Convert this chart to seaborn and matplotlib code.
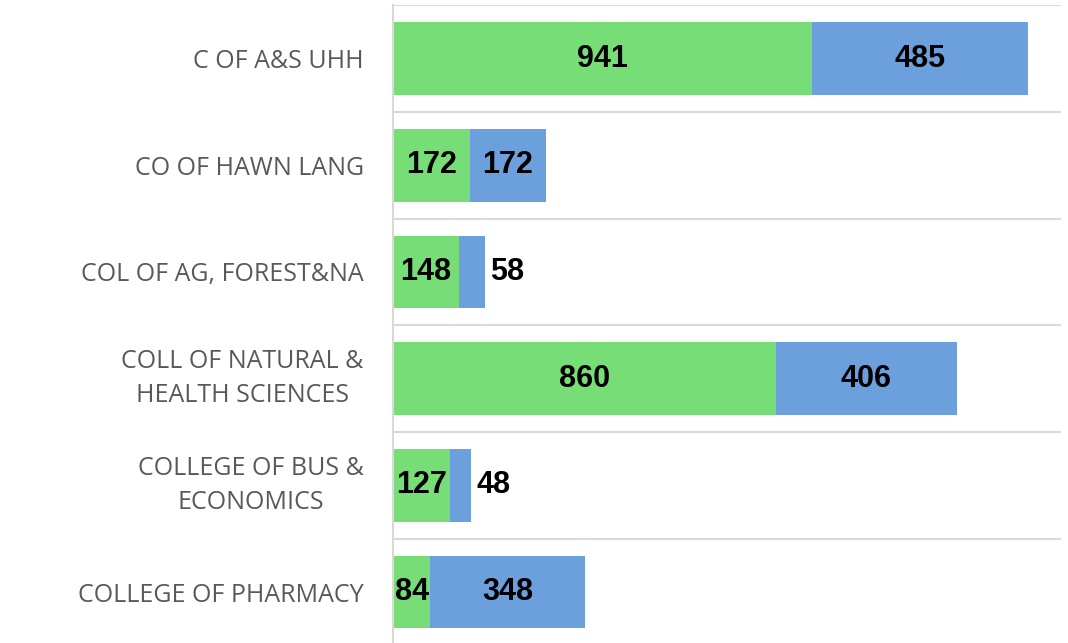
import matplotlib
matplotlib.use("Agg")
import matplotlib.pyplot as plt
import seaborn as sns

# Data
colleges = ["C OF A&S UHH", "CO OF HAWN LANG", "COL OF AG, FOREST&NA",
            "COLL OF NATURAL &\nHEALTH SCIENCES", "COLLEGE OF BUS &\nECONOMICS",
            "COLLEGE OF PHARMACY"]
green_vals = [941, 172, 148, 860, 127, 84]
blue_vals = [485, 172, 58, 406, 48, 348]

green = "#77DD77"
blue = "#6CA0DC"
totals = [g + b for g, b in zip(green_vals, blue_vals)]

sns.set_style("white")
plt.rcParams['font.family'] = ['Open Sans', 'DejaVu Sans']

fig = plt.figure(figsize=(10.68, 6.43), dpi=100)
ax = fig.add_axes([393 / 1068, -0.004, 668 / 1068, 0.996])

# blue segment = full bar drawn first, green drawn over it
sns.barplot(x=totals, y=colleges, color=blue, width=0.68, saturation=1,
            linewidth=0, ax=ax, orient="h")
sns.barplot(x=green_vals, y=colleges, color=green, width=0.68, saturation=1,
            linewidth=0, ax=ax, orient="h")

ax.set_xlim(0, 1500)
ax.set_ylim(len(colleges) - 0.5, -0.5)
ax.set_xticks([])
ax.set_xlabel("")
ax.set_ylabel("")

# separator lines between categories
for i in range(len(colleges) + 1):
    ax.axhline(i - 0.5, color="#D9D9D9", lw=1.5, zorder=0)

for s in ["top", "right", "bottom"]:
    ax.spines[s].set_visible(False)
ax.spines["left"].set_color("#D9D9D9")
ax.spines["left"].set_linewidth(1.5)

ax.tick_params(axis="y", length=0, pad=21)
for lbl in ax.get_yticklabels():
    lbl.set_fontsize(18)
    lbl.set_color("#595959")
    lbl.set_multialignment("center")
    lbl.set_linespacing(1.5)
    if "\n" in lbl.get_text():
        lbl.set_verticalalignment("center")

num_font = dict(family="Liberation Sans", fontsize=22, fontweight="bold", color="black",
                va="center")
for i, (g, b) in enumerate(zip(green_vals, blue_vals)):
    ax.text(g / 2, i, str(g), ha="center", clip_on=False, **num_font)
    if b < 100:
        ax.text(g + b + 12, i, str(b), ha="left", **num_font)
    else:
        ax.text(g + b / 2, i, str(b), ha="center", **num_font)

fig.savefig("out.png", dpi=100)
